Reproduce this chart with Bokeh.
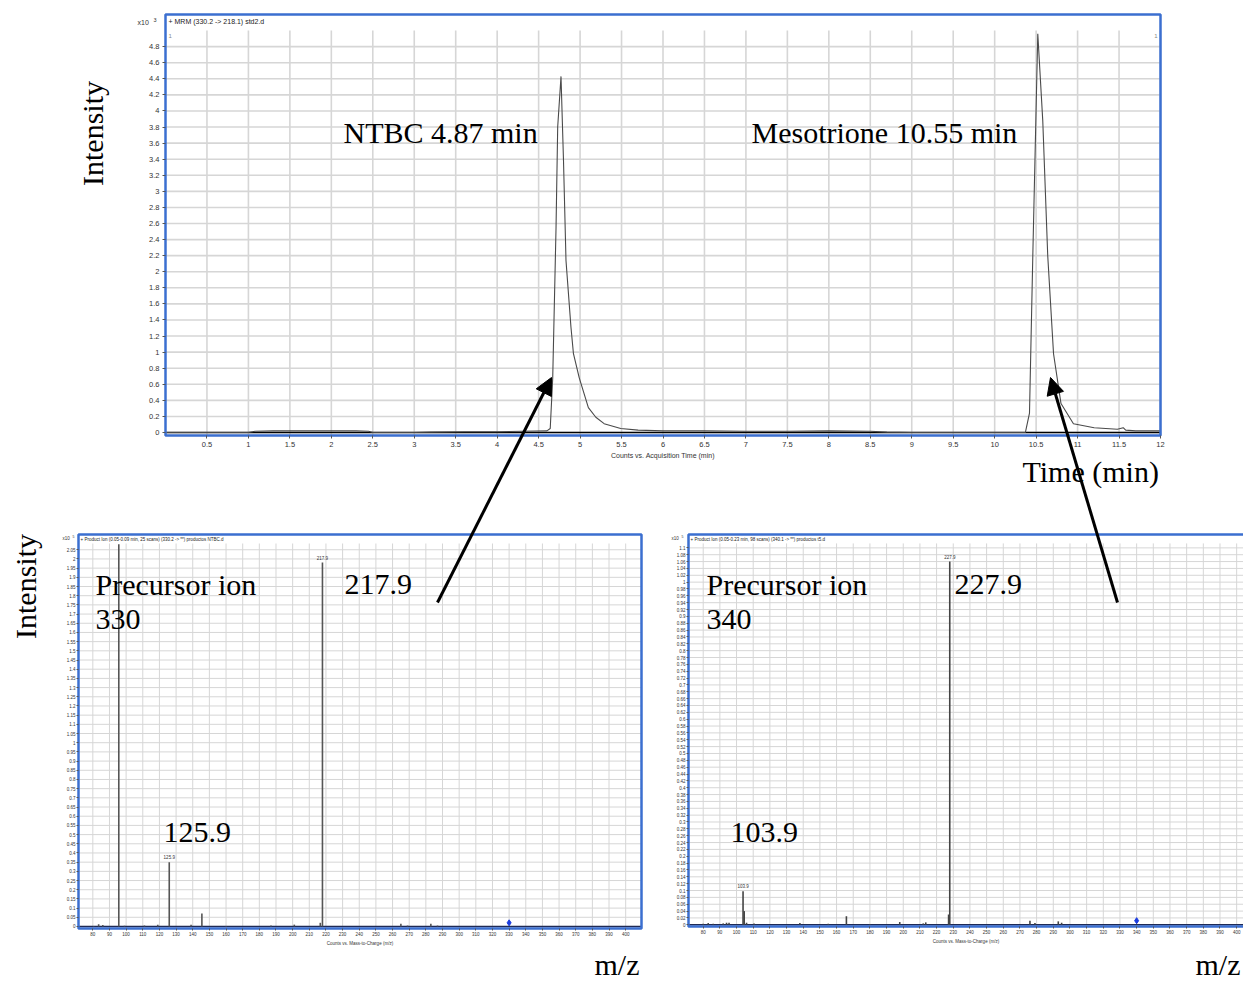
import math
from bokeh.plotting import figure
from bokeh.models import (Range1d, FixedTicker, CustomJSTickFormatter, Label, Arrow,
                          NormalHead, LinearAxis)
from bokeh.core.properties import value
from bokeh.embed import file_html
from bokeh.resources import INLINE

# ---------------- data ----------------
chrom_time = [0.0, 0.5, 1.0, 1.08, 1.3, 1.6, 2.0, 2.3, 2.45, 2.5, 3.0, 3.2, 3.6, 4.0, 4.3,
              4.6, 4.64, 4.67, 4.71, 4.73, 4.77, 4.80, 4.83, 4.89, 4.92, 4.99, 5.10, 5.19,
              5.29, 5.49, 5.70, 6.0, 6.5, 7.0, 7.5, 8.0, 8.5, 8.7, 9.0, 9.5, 10.0, 10.37,
              10.42, 10.46, 10.52, 10.58, 10.64, 10.71, 10.80, 10.95, 11.20, 11.48, 11.55,
              11.58, 11.70, 12.0]
chrom_intensity = [0.0, 0.0, 0.0, 0.015, 0.02, 0.02, 0.02, 0.02, 0.015, 0.0, 0.0, 0.005, 0.01,
                   0.01, 0.015, 0.02, 0.05, 0.68, 2.55, 3.8, 4.43, 3.38, 2.14, 1.31, 0.98, 0.68,
                   0.31, 0.19, 0.11, 0.05, 0.03, 0.02, 0.02, 0.015, 0.015, 0.02, 0.015, 0.005,
                   0.0, 0.0, 0.0, 0.0, 0.24, 2.2, 4.96, 3.88, 2.2, 0.98, 0.36, 0.11, 0.06, 0.04,
                   0.06, 0.03, 0.02, 0.02]
baseline_time = [0.0, 12.0]
baseline_intensity = [0.0, 0.0]

ntbc_mz = [80.5, 83.5, 86.0, 95.6, 99.0, 111.0, 119.0, 125.9, 139.0, 145.5, 160.0, 187.0,
           201.0, 216.6, 217.9, 265.0, 269.0, 283.0, 287.0]
ntbc_abund = [0.003, 0.012, 0.008, 2.08, 0.004, 0.006, 0.01, 0.35, 0.01, 0.07, 0.003, 0.005,
              0.01, 0.02, 1.98, 0.015, 0.005, 0.015, 0.005]
ntbc_label_mz = [125.9, 217.9]
ntbc_label_abund = [0.35, 1.98]
ntbc_label_text = ["125.9", "217.9"]
ntbc_precursor_mz = [330.0]
ntbc_precursor_abund = [0.02]

meso_mz = [80.0, 83.0, 86.0, 92.0, 94.0, 95.5, 103.9, 104.6, 106.0, 110.5, 138.0, 155.0,
           165.9, 180.0, 197.9, 212.0, 213.5, 227.2, 227.9, 276.0, 279.0, 293.0, 295.0]
meso_abund = [0.003, 0.005, 0.003, 0.004, 0.006, 0.006, 0.098, 0.04, 0.006, 0.004, 0.005,
              0.003, 0.025, 0.002, 0.008, 0.004, 0.007, 0.03, 1.06, 0.012, 0.005, 0.01, 0.006]
meso_label_mz = [103.9, 227.9]
meso_label_abund = [0.098, 1.06]
meso_label_text = ["103.9", "227.9"]
meso_precursor_mz = [340.0]
meso_precursor_abund = [0.012]

time_ticks = [0.5, 1, 1.5, 2, 2.5, 3, 3.5, 4, 4.5, 5, 5.5, 6, 6.5, 7, 7.5, 8, 8.5, 9, 9.5,
              10, 10.5, 11, 11.5, 12]
chrom_ticks = [0, 0.2, 0.4, 0.6, 0.8, 1, 1.2, 1.4, 1.6, 1.8, 2, 2.2, 2.4, 2.6, 2.8, 3, 3.2,
               3.4, 3.6, 3.8, 4, 4.2, 4.4, 4.6, 4.8]
mz_ticks = [80, 90, 100, 110, 120, 130, 140, 150, 160, 170, 180, 190, 200, 210, 220, 230, 240,
            250, 260, 270, 280, 290, 300, 310, 320, 330, 340, 350, 360, 370, 380, 390, 400]
ntbc_ticks = [0, 0.05, 0.1, 0.15, 0.2, 0.25, 0.3, 0.35, 0.4, 0.45, 0.5, 0.55, 0.6, 0.65, 0.7,
              0.75, 0.8, 0.85, 0.9, 0.95, 1, 1.05, 1.1, 1.15, 1.2, 1.25, 1.3, 1.35, 1.4, 1.45,
              1.5, 1.55, 1.6, 1.65, 1.7, 1.75, 1.8, 1.85, 1.9, 1.95, 2, 2.05]
meso_ticks = [0, 0.02, 0.04, 0.06, 0.08, 0.1, 0.12, 0.14, 0.16, 0.18, 0.2, 0.22, 0.24, 0.26,
              0.28, 0.3, 0.32, 0.34, 0.36, 0.38, 0.4, 0.42, 0.44, 0.46, 0.48, 0.5, 0.52, 0.54,
              0.56, 0.58, 0.6, 0.62, 0.64, 0.66, 0.68, 0.7, 0.72, 0.74, 0.76, 0.78, 0.8, 0.82,
              0.84, 0.86, 0.88, 0.9, 0.92, 0.94, 0.96, 0.98, 1, 1.02, 1.04, 1.06, 1.08, 1.1]

# ---------------- page geometry (pixels) ----------------
W, H = 1243, 980
TOP_FRAME = (165, 14, 1160, 435)
BL_FRAME = (78, 534, 641, 928)
BR_FRAME = (688, 534, 1255, 926)
TOP_X, TOP_Y, TOP_DATA_TOP = (0.0, 12.0), (-0.037, 5.2), 5.0
BL_X, BL_Y, BL_DATA_TOP = (71.4, 409.5), (-0.011, 2.133), 2.084
BR_X, BR_Y, BR_DATA_TOP = (71.18, 411.3), (-0.005, 1.139), 1.113

SERIF = "Liberation Serif"
SANS = "Liberation Sans"
BLUE = "#3b6fd0"
GRID = "#d6d6d6"

p = figure(width=W, height=H, x_range=Range1d(0, W), y_range=Range1d(H, 0),
           x_axis_location=None, y_axis_location=None, min_border=0,
           toolbar_location=None, output_backend="svg")
p.outline_line_color = None
p.grid.visible = False
p.background_fill_color = "white"
p.border_fill_color = "white"


def panel(name, frame, xr, yr):
    l, t, r, b = frame
    sx = (r - l) / (xr[1] - xr[0])
    sy = (b - t) / (yr[1] - yr[0])
    p.extra_x_ranges[name] = Range1d(xr[0] - l / sx, xr[0] + (W - l) / sx)
    p.extra_y_ranges[name] = Range1d(yr[0] - (H - b) / sy, yr[0] + b / sy)
    return dict(x_range_name=name, y_range_name=name)


def axis_style(ax, font_size, tick_out, standoff):
    ax.formatter = CustomJSTickFormatter(code="return String(Math.round(tick*1000)/1000);")
    ax.major_label_text_font = SANS
    ax.major_label_text_font_size = font_size
    ax.major_label_text_color = "#333333"
    ax.axis_line_color = None
    ax.major_tick_line_color = "#555555"
    ax.major_tick_in = 0
    ax.major_tick_out = tick_out
    ax.minor_tick_line_color = None
    ax.major_label_standoff = standoff
    ax.axis_label_text_font = SANS
    ax.axis_label_text_font_style = "normal"
    ax.axis_label_text_color = "#333333"
    ax.axis_label_standoff = 2


def draw_frame(kw, xr, yr, data_top, xticks, yticks, grid_w, font_size, tick_out, standoff,
               xlabel, xlabel_size):
    p.quad(left=[xr[0]], right=[xr[1]], bottom=[yr[0]], top=[yr[1]], fill_color="white",
           line_color=None, **kw)
    p.segment(x0=xticks, y0=[yr[0]] * len(xticks), x1=xticks, y1=[data_top] * len(xticks),
              line_color=GRID, line_width=grid_w, **kw)
    p.segment(x0=[xr[0]] * len(yticks), y0=yticks, x1=[xr[1]] * len(yticks), y1=yticks,
              line_color=GRID, line_width=grid_w, **kw)
    xa = LinearAxis(fixed_location=yr[0], bounds=xr, ticker=FixedTicker(ticks=xticks),
                    axis_label=xlabel, **kw)
    axis_style(xa, font_size, tick_out, standoff)
    xa.axis_label_text_font_size = xlabel_size
    p.add_layout(xa, "below")
    ya = LinearAxis(fixed_location=xr[0], bounds=yr, ticker=FixedTicker(ticks=yticks), **kw)
    axis_style(ya, font_size, tick_out, standoff)
    p.add_layout(ya, "left")


def outline(kw, xr, yr):
    p.quad(left=[xr[0]], right=[xr[1]], bottom=[yr[0]], top=[yr[1]], fill_color=None,
           line_color=BLUE, line_width=2.5, **kw)


def add_label(px, py, text, size, font=SERIF, align="left", angle=0.0, color="black"):
    p.add_layout(Label(x=px, y=py, text=text, text_font=font, text_font_size=size,
                       text_align=align, text_baseline="middle", angle=angle,
                       text_color=color))


def add_arrow(tail, head):
    p.add_layout(Arrow(x_start=tail[0], y_start=tail[1], x_end=head[0], y_end=head[1],
                       end=NormalHead(size=17, fill_color="black", line_color="black"),
                       line_color="black", line_width=3))


# ---------------- top: chromatogram ----------------
tk = panel("top", TOP_FRAME, TOP_X, TOP_Y)
draw_frame(tk, TOP_X, TOP_Y, TOP_DATA_TOP, time_ticks, chrom_ticks, 1.6, "7.5px", 3, 3,
           "Counts vs. Acquisition Time (min)", "7px")
p.line(baseline_time, baseline_intensity, line_color="black", line_width=1.6, **tk)
p.line(chrom_time, chrom_intensity, line_color="#4a4a4a", line_width=1.1, **tk)
outline(tk, TOP_X, TOP_Y)

# ---------------- bottom-left: NTBC product ions ----------------
lk = panel("bl", BL_FRAME, BL_X, BL_Y)
draw_frame(lk, BL_X, BL_Y, BL_DATA_TOP, mz_ticks, ntbc_ticks, 1.0, "4.5px", 2, 1,
           "Counts vs. Mass-to-Charge (m/z)", "4.5px")
p.line([BL_X[0], BL_X[1]], [0, 0], line_color="#1f2a55", line_width=1.6, **lk)
p.segment(x0=ntbc_mz, y0=[0] * len(ntbc_mz), x1=ntbc_mz, y1=ntbc_abund,
          line_color="#555555", line_width=1.6, **lk)
p.text(x=ntbc_label_mz, y=ntbc_label_abund, text=ntbc_label_text, text_font=value(SANS),
       text_font_size="4.5px", text_align="center", text_baseline="bottom", y_offset=-3,
       text_color="#333333", **lk)
p.scatter(ntbc_precursor_mz, ntbc_precursor_abund, marker="diamond", size=6,
          fill_color="#1a3be0", line_color="#1a3be0", **lk)
outline(lk, BL_X, BL_Y)

# ---------------- bottom-right: Mesotrione product ions ----------------
rk = panel("br", BR_FRAME, BR_X, BR_Y)
draw_frame(rk, BR_X, BR_Y, BR_DATA_TOP, mz_ticks, meso_ticks, 1.0, "4.5px", 2, 1,
           "Counts vs. Mass-to-Charge (m/z)", "4.5px")
p.line([BR_X[0], BR_X[1]], [0, 0], line_color="#1f2a55", line_width=1.6, **rk)
p.segment(x0=meso_mz, y0=[0] * len(meso_mz), x1=meso_mz, y1=meso_abund,
          line_color="#444444", line_width=1.6, **rk)
p.text(x=meso_label_mz, y=meso_label_abund, text=meso_label_text, text_font=value(SANS),
       text_font_size="4.5px", text_align="center", text_baseline="bottom", y_offset=-3,
       text_color="#333333", **rk)
p.scatter(meso_precursor_mz, meso_precursor_abund, marker="diamond", size=6,
          fill_color="#1a3be0", line_color="#1a3be0", **rk)
outline(rk, BR_X, BR_Y)

# ---------------- texts and arrows (page coordinates) ----------------
add_label(168, 21, "+ MRM (330.2 -> 218.1) std2.d", "7px", font=SANS, color="#222222")
add_label(137, 22, "x10", "7px", font=SANS, color="#333333")
add_label(153, 19, "3", "5.5px", font=SANS, color="#333333")
add_label(168, 35, "1", "6px", font=SANS, color="#888888")
add_label(1157, 35, "1", "6px", font=SANS, color="#888888", align="right")
add_label(343, 132, "NTBC 4.87 min", "30px")
add_label(751, 132, "Mesotrione 10.55 min", "30px")
add_label(92, 133, "Intensity", "30px", align="center", angle=math.pi / 2)
add_label(1022, 471, "Time (min)", "30px")

add_label(80, 538.5, "+ Product Ion (0.05-0.09 min, 25 scans) (330.2 -> **) productos NTBC.d",
          "4.5px", font=SANS, color="#222222")
add_label(62, 538, "x10", "4.5px", font=SANS, color="#333333")
add_label(72, 536, "5", "3.5px", font=SANS, color="#333333")
add_label(95, 584, "Precursor ion", "30px")
add_label(95, 619, "330", "30px")
add_label(344, 584, "217.9", "30px")
add_label(163, 832, "125.9", "30px")
add_label(25, 586, "Intensity", "30px", align="center", angle=math.pi / 2)
add_label(594, 964, "m/z", "30px")

add_label(690, 538.5, "+ Product Ion (0.05-0.23 min, 98 scans) (340.1 -> **) productos t5.d",
          "4.5px", font=SANS, color="#222222")
add_label(671, 538, "x10", "4.5px", font=SANS, color="#333333")
add_label(681, 536, "5", "3.5px", font=SANS, color="#333333")
add_label(706, 584, "Precursor ion", "30px")
add_label(706, 619, "340", "30px")
add_label(954, 584, "227.9", "30px")
add_label(730, 832, "103.9", "30px")
add_label(1240, 964, "m/z", "30px", align="right")

add_arrow((437, 602), (551, 377))
add_arrow((1117, 602), (1050, 377))

open("out.html", "w").write(file_html(p, INLINE))
